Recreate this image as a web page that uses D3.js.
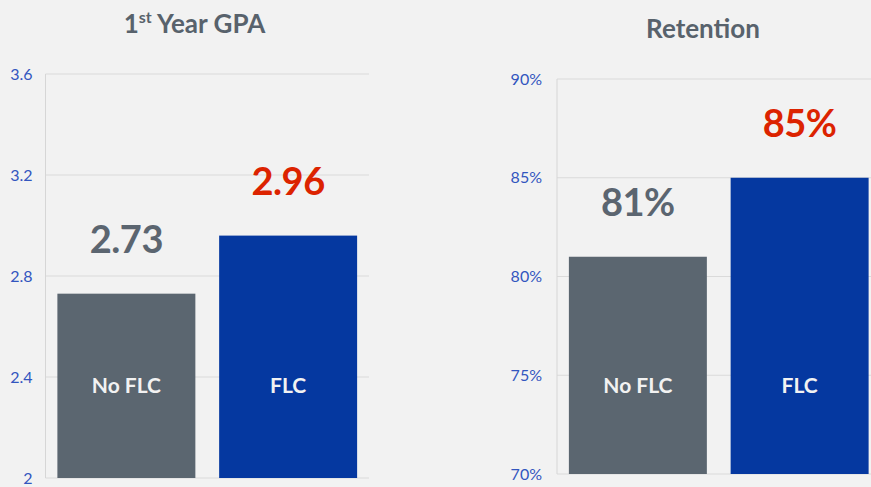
<!DOCTYPE html>
<html>
<head>
<meta charset="utf-8">
<script src="https://cdn.jsdelivr.net/npm/d3@7"></script>
<style>
	body { margin: 0; background: #f2f2f2; }
	svg { display: block; font-family: Lato, "DejaVu Sans", sans-serif; }
</style>
</head>
<body>
<svg id="chart" width="871" height="487"></svg>
<script>
	// data
	var categories = ['No FLC', 'FLC'];
	var gpaValues = [2.73, 2.96];
	var gpaTicks = [2, 2.4, 2.8, 3.2, 3.6];
	var retentionValues = [0.81, 0.85];
	var retentionTicks = [0.70, 0.75, 0.80, 0.85, 0.90];

	var barColors = ['#5b6670', '#0538a0'],
		labelColors = ['#5b6570', '#dc2300'];

	var svg = d3.select('#chart');

	function drawPanel (opts) {
		var g = svg.append('g');

		var x = d3.scaleBand()
			.domain(categories)
			.range([opts.left, opts.left + 323.5])
			.paddingInner(0.147)
			.paddingOuter(0.0735);

		var y = d3.scaleLinear()
			.domain(opts.domain)
			.range([opts.bottom, opts.top]);

		// gridlines
		g.selectAll('line.grid')
			.data(opts.ticks)
			.enter().append('line')
			.attr('class', 'grid')
			.attr('x1', opts.left).attr('x2', opts.left + 323.5)
			.attr('y1', function (d) { return y(d); })
			.attr('y2', function (d) { return y(d); })
			.attr('stroke', '#dadada')
			.attr('stroke-width', 1);

		// vertical axis line
		g.append('line')
			.attr('x1', opts.left).attr('x2', opts.left)
			.attr('y1', y(opts.domain[1])).attr('y2', y(opts.domain[0]))
			.attr('stroke', '#d6d6d6');

		// tick labels
		g.selectAll('text.tick')
			.data(opts.ticks)
			.enter().append('text')
			.attr('class', 'tick')
			.attr('x', opts.left - opts.tickGap)
			.attr('y', function (d) { return y(d); })
			.attr('dy', '0.35em')
			.attr('text-anchor', 'end')
			.attr('fill', '#3356bf')
			.attr('font-size', 16)
			.text(opts.tickFormat);

		// bars
		g.selectAll('rect.bar')
			.data(opts.values)
			.enter().append('rect')
			.attr('class', 'bar')
			.attr('x', function (d, i) { return x(categories[i]); })
			.attr('width', x.bandwidth())
			.attr('y', function (d) { return y(d); })
			.attr('height', function (d) { return y(opts.domain[0]) - y(d); })
			.attr('fill', function (d, i) { return barColors[i]; });

		// value labels
		g.selectAll('text.value')
			.data(opts.values)
			.enter().append('text')
			.attr('class', 'value')
			.attr('x', function (d, i) { return x(categories[i]) + x.bandwidth() / 2; })
			.attr('y', function (d) { return y(d) - 41; })
			.attr('text-anchor', 'middle')
			.attr('font-size', 38)
			.attr('font-weight', 'bold')
			.attr('letter-spacing', -0.5)
			.attr('fill', function (d, i) { return labelColors[i]; })
			.text(opts.valueFormat);

		// category labels inside bars
		g.selectAll('text.cat')
			.data(categories)
			.enter().append('text')
			.attr('class', 'cat')
			.attr('x', function (d) { return x(d) + x.bandwidth() / 2; })
			.attr('y', 393)
			.attr('text-anchor', 'middle')
			.attr('font-size', 21)
			.attr('font-weight', 'bold')
			.attr('fill', '#f2f2f2')
			.text(function (d) { return d; });

		// title
		var title = g.append('text')
			.attr('x', opts.titleX)
			.attr('y', opts.titleY)
			.attr('text-anchor', 'middle')
			.attr('font-size', 26)
			.attr('font-weight', 'bold')
			.attr('fill', '#58626c');
		opts.title(title);
	}

	drawPanel({
		left: 45.5, top: 74, bottom: 478,
		domain: [2, 3.6], ticks: gpaTicks, values: gpaValues,
		tickGap: 13,
		tickFormat: function (d) { return d3.format('~g')(d); },
		valueFormat: function (d) { return d3.format('.2f')(d); },
		titleX: 194.5, titleY: 33,
		title: function (t) {
			t.append('tspan').text('1');
			t.append('tspan').attr('font-size', 16).attr('dy', -10).text('st');
			t.append('tspan').attr('dy', 10).text(' Year GPA');
		}
	});

	drawPanel({
		left: 557, top: 79, bottom: 474,
		domain: [0.70, 0.90], ticks: retentionTicks, values: retentionValues,
		tickGap: 15,
		tickFormat: d3.format('.0%'),
		valueFormat: d3.format('.0%'),
		titleX: 703, titleY: 38,
		title: function (t) { t.text('Retention'); }
	});
</script>
</body>
</html>
